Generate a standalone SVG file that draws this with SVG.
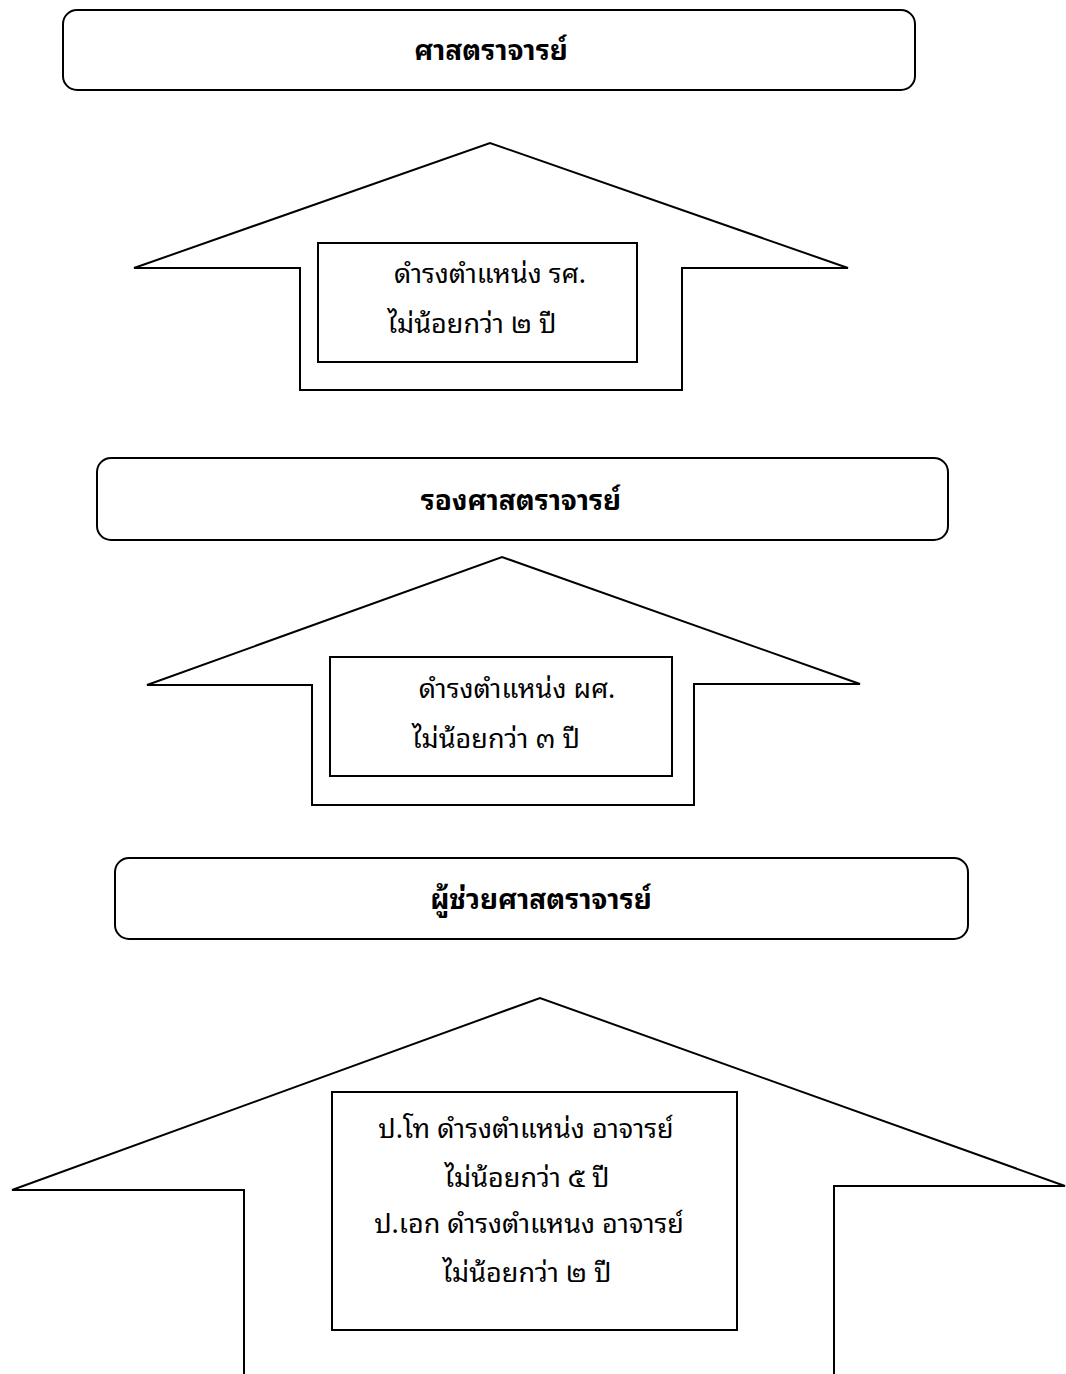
<svg xmlns="http://www.w3.org/2000/svg" width="1066" height="1374" viewBox="0 0 1066 1374">
<style>
.rbox{fill:#fff;stroke:#000;stroke-width:2}
.arrow{fill:#fff;stroke:#000;stroke-width:2;stroke-linejoin:miter}
.ibox{fill:#fff;stroke:#000;stroke-width:2}
.t{font-family:"Noto Sans Thai Looped","Loma","Noto Sans Thai","Garuda","DejaVu Sans",sans-serif;text-anchor:middle;fill:#000}
.title{font-size:28px;font-weight:bold}
.body{font-size:27px}
</style>
<rect width="1066" height="1374" fill="#fff"/>
<g id="connectors">
<polygon id="arrow1" class="arrow" points="134,268 490,143 848,268 682,268 682,390 300,390 300,268"/>
<polygon id="arrow2" class="arrow" points="147,685 502,557 860,684 694,684 694,805 312,805 312,685"/>
<polyline id="arrow3" class="arrow" points="244,1380 244,1190 12,1190 540,998 1065,1186 834,1186 834,1380"/>
</g>
<g id="node-professor">
<rect class="rbox" x="63" y="10" width="852" height="80" rx="14"/>
<text class="t title" x="491" y="60">ศาสตราจารย์</text>
</g>
<g id="node-req1">
<rect class="ibox" x="318" y="243" width="319" height="119"/>
<text class="t body" x="490" y="283">ดำรงตำแหน่ง รศ.</text>
<text class="t body" x="472" y="333">ไม่น้อยกว่า ๒ ปี</text>
</g>
<g id="node-assoc">
<rect class="rbox" x="97" y="458" width="851" height="82" rx="14"/>
<text class="t title" x="521" y="510">รองศาสตราจารย์</text>
</g>
<g id="node-req2">
<rect class="ibox" x="330" y="657" width="342" height="119"/>
<text class="t body" x="517" y="698">ดำรงตำแหน่ง ผศ.</text>
<text class="t body" x="496" y="748">ไม่น้อยกว่า ๓ ปี</text>
</g>
<g id="node-assist">
<rect class="rbox" x="115" y="858" width="853" height="81" rx="14"/>
<text class="t title" x="541" y="909">ผู้ช่วยศาสตราจารย์</text>
</g>
<g id="node-req3">
<rect class="ibox" x="332" y="1092" width="405" height="238"/>
<text class="t body" x="526" y="1138">ป.โท ดำรงตำแหน่ง อาจารย์</text>
<text class="t body" x="527" y="1187">ไม่น้อยกว่า ๕ ปี</text>
<text class="t body" x="529" y="1233">ป.เอก ดำรงตำแหนง อาจารย์</text>
<text class="t body" x="527" y="1282">ไม่น้อยกว่า ๒ ปี</text>
</g>
</svg>
